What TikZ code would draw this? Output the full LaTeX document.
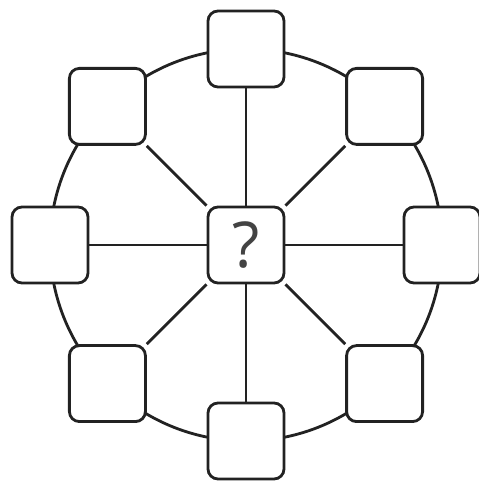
\documentclass[tikz,border=0pt]{standalone}
\usepackage{fontspec}
\setsansfont{Open Sans}
\usepackage{tikz}
\usetikzlibrary{positioning}
\definecolor{linegray}{RGB}{34,34,34}

\begin{document}
\begin{tikzpicture}[line width=1.6pt, draw=linegray,
  box/.style={draw=linegray,line width=1.6pt,rounded corners=0.2cm,fill=white,minimum size=1.52cm,inner sep=0pt}]
\useasboundingbox (-4.92,-4.78) rectangle (4.64,4.9);
\draw[linegray] (0,0) circle (3.92cm);
\node[box] (hub) at (0,0) {\sffamily\fontsize{36}{36}\selectfont\color{linegray!85}?};
\node[box] (n) at (90:3.92) {};
\node[box] (ne) at (45:3.92) {};
\node[box] (e) at (0:3.92) {};
\node[box] (se) at (-45:3.92) {};
\node[box] (s) at (-90:3.92) {};
\node[box] (sw) at (-135:3.92) {};
\node[box] (w) at (180:3.92) {};
\node[box] (nw) at (135:3.92) {};
\draw[linegray] (hub) -- (n);
\draw[linegray] (hub) -- (ne);
\draw[linegray] (hub) -- (e);
\draw[linegray] (hub) -- (se);
\draw[linegray] (hub) -- (s);
\draw[linegray] (hub) -- (sw);
\draw[linegray] (hub) -- (w);
\draw[linegray] (hub) -- (nw);
\end{tikzpicture}
\end{document}
